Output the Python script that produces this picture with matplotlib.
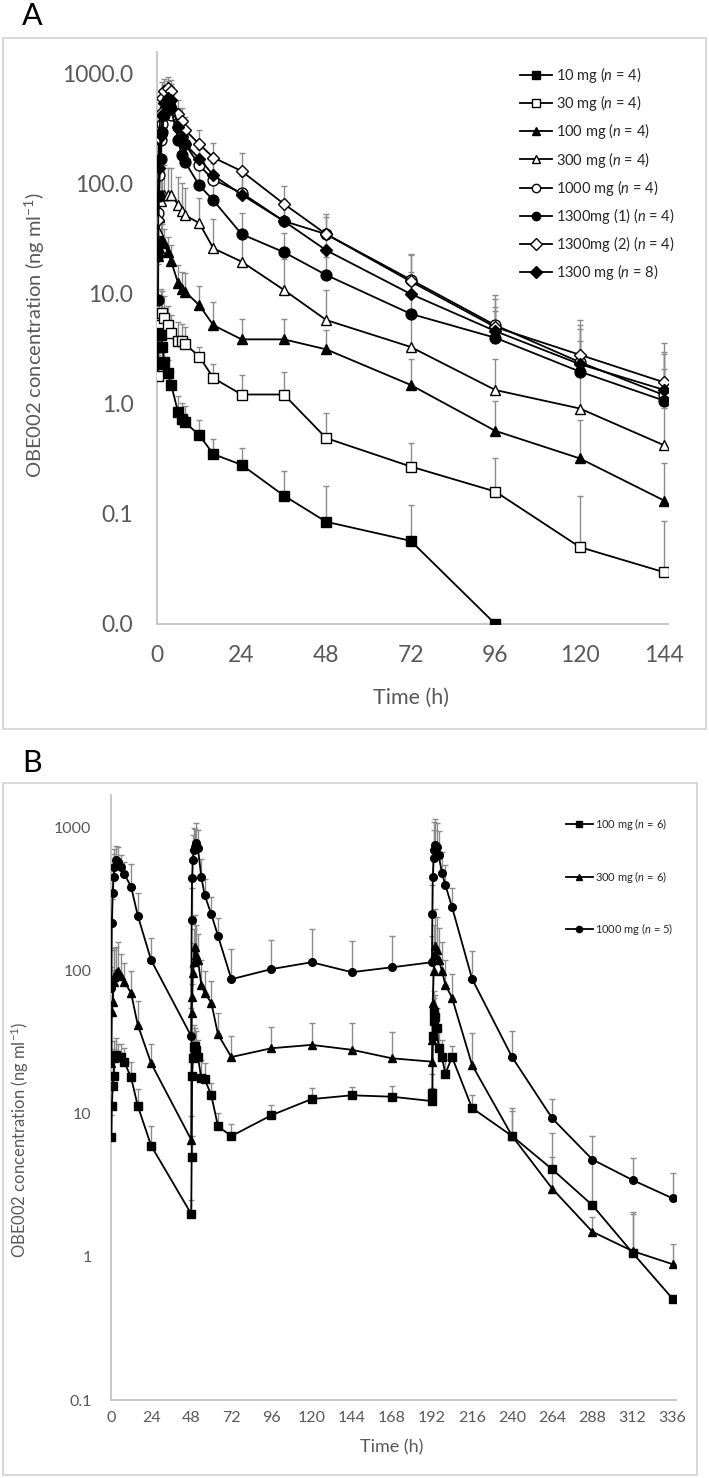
import matplotlib
matplotlib.use("Agg")
import matplotlib.pyplot as plt
from matplotlib.patches import Rectangle
import numpy as np

plt.rcParams['font.family'] = ['Lato', 'DejaVu Sans']
plt.rcParams['mathtext.fontset'] = 'custom'
plt.rcParams['mathtext.rm'] = 'Lato'
plt.rcParams['mathtext.it'] = 'Lato:italic'

# ---------------- Panel A data ----------------
time_a = [0.25, 0.5, 1, 1.5, 2, 3, 4, 6, 7, 8, 12, 16, 24, 36, 48, 72, 96, 120, 144]

mg10 = [2.3, 5.3, 4.2, 3.3, 2.4, 1.9, 1.5, 0.84, 0.73, 0.68, 0.52, 0.35, 0.28, 0.147, 0.085, 0.057, 0.01]
mg10_sd = [0.6, 1.5, 1.2, 1.0, 0.8, 0.6, 0.5, 0.35, 0.3, 0.28, 0.19, 0.13, 0.12, 0.10, 0.095, 0.063, 0]

mg30 = [1.8, 5.5, 6.5, 6.7, 6.0, 5.2, 4.4, 3.76, 3.7, 3.5, 2.7, 1.72, 1.22, 1.22, 0.49, 0.27, 0.16, 0.050, 0.0295]
mg30_sd = [1.0, 3.0, 4.5, 4.0, 3.5, 2.5, 2.0, 1.8, 1.6, 1.5, 0.6, 0.6, 0.6, 0.73, 0.34, 0.17, 0.16, 0.096, 0.057]

mg100 = [22, 26, 31, 31, 29, 24, 20, 12.5, 11, 10.5, 7.9, 5.2, 3.87, 3.87, 3.14, 1.49, 0.57, 0.32, 0.132]
mg100_sd = [8, 10, 12, 12, 10, 9, 8, 6, 5, 5, 3.9, 3.2, 2.1, 2.0, 1.6, 1.1, 0.5, 0.40, 0.16]

mg300 = [37, 50, 70, 79, 80, 80, 79, 65, 57, 52, 44, 26, 19.7, 10.9, 5.8, 3.3, 1.34, 0.91, 0.42]
mg300_sd = [40, 60, 80, 90, 70, 60, 60, 50, 45, 40, 30, 22, 18, 10, 5, 3.5, 1.2, 0.87, 0.5]

mg1000 = [54, 120, 250, 350, 430, 450, 420, 330, 280, 230, 148, 109, 83, 46, 35, 13.5, 5.2, 2.4, 1.2]
mg1000_sd = [40, 80, 150, 200, 250, 250, 220, 150, 120, 100, 60, 45, 35, 25, 18, 9, 4.5, 2.8, 1.8]

mg1300_1 = [8.8, 77, 170, 300, 420, 500, 480, 251, 183, 158, 97, 71, 35, 24, 14.9, 6.6, 4.0, 1.97, 1.07]
mg1300_1_sd = [10, 60, 120, 200, 250, 300, 280, 150, 110, 90, 50, 40, 20, 12, 7, 4, 3, 1.8, 1.0]

mg1300_2 = [47, 260, 440, 600, 700, 740, 700, 430, 370, 310, 230, 174, 131, 66, 35, 13, 5.0, 2.8, 1.57]
mg1300_2_sd = [30, 150, 250, 250, 200, 200, 180, 150, 120, 100, 80, 60, 60, 30, 15, 10, 4, 3, 2]

mg1300 = [22, 140, 280, 420, 540, 610, 580, 330, 270, 230, 170, 120, 80, 46, 25, 10, 4.6, 2.3, 1.34]
mg1300_sd = [25, 120, 200, 250, 250, 250, 230, 150, 120, 100, 70, 50, 40, 20, 10, 6, 3, 2.5, 1.5]

labels_a = ["10 mg ($\\it{n}$ = 4)", "30 mg ($\\it{n}$ = 4)", "100 mg ($\\it{n}$ = 4)",
            "300 mg ($\\it{n}$ = 4)", "1000 mg ($\\it{n}$ = 4)", "1300mg (1) ($\\it{n}$ = 4)",
            "1300mg (2) ($\\it{n}$ = 4)", "1300 mg ($\\it{n}$ = 8)"]
ticks_a_y = [0.01, 0.1, 1, 10, 100, 1000]
ticklabels_a_y = ["0.0", "0.1", "1.0", "10.0", "100.0", "1000.0"]
ticks_a_x = [0, 24, 48, 72, 96, 120, 144]

# ---------------- Panel B data ----------------
time_b = [0.25, 0.5, 1, 1.5, 2, 3, 4, 6, 8, 12, 16, 24,
          48, 48.25, 48.5, 49, 49.5, 50, 51, 52, 54, 56, 60, 64, 72,
          96, 120, 144, 168,
          192, 192.25, 192.5, 193, 193.5, 194, 195, 196, 198, 200, 204, 216,
          240, 264, 288, 312, 336]

b100 = [6.9, 11.4, 15.7, 18.5, 24.5, 25.8, 25, 25, 23, 18, 11.4, 6.0,
        2.0, 5.0, 18.5, 24.5, 29.6, 30, 28, 25, 17.8, 17.6, 13.5, 8.2, 7.0,
        9.8, 12.7, 13.5, 13.2,
        12.3, 14, 35, 45, 52, 48, 40, 28.8, 25, 19, 25, 11,
        7.0, 4.1, 2.3, 1.07, 0.51]
b100_sd = [3, 5, 8, 10, 8, 8, 6, 6, 6, 5, 3.5, 2.2,
           0.5, 2, 8, 10, 12, 10, 10, 8, 6, 5, 3, 2, 1.5,
           1.8, 2.4, 2.0, 2.5,
           3, 5, 15, 20, 20, 20, 15, 10, 8, 5, 5, 2.5,
           3.5, 3.2, 2.5, 1.0, 0]

b300 = [22.6, 52, 61, 84, 91, 96, 100, 92, 84, 70, 42, 22.6,
        6.6, 50.6, 66, 96, 116, 148, 129, 120, 80, 70, 60, 36, 25,
        28.8, 30.4, 28.1, 24.5,
        23.2, 33, 60, 100, 130, 150, 140, 120, 100, 80, 65, 22,
        7.0, 3.0, 1.5, 1.1, 0.89]
b300_sd = [10, 30, 40, 60, 50, 50, 60, 40, 30, 30, 20, 8,
           3, 30, 40, 60, 80, 100, 80, 60, 40, 30, 25, 15, 10,
           12, 13, 15, 13,
           12, 20, 40, 60, 80, 120, 100, 80, 60, 40, 30, 15,
           4, 2, 0.4, 0.9, 0.35]

b1000 = [76, 216, 349, 456, 531, 597, 581, 531, 474, 389, 244, 119,
         35, 228, 445, 597, 700, 740, 781, 721, 456, 340, 249, 176, 87.5,
         103, 115, 98, 106,
         115, 250, 450, 620, 700, 760, 740, 650, 480, 400, 280, 88,
         24.9, 9.3, 4.8, 3.45, 2.57]
b1000_sd = [30, 100, 150, 200, 180, 150, 150, 120, 100, 170, 105, 50,
            20, 150, 250, 300, 300, 250, 300, 250, 150, 100, 80, 60, 54,
            62, 80, 65, 70,
            60, 150, 250, 350, 400, 400, 350, 300, 200, 150, 100, 50,
            13, 3.5, 2.2, 1.5, 1.3]

labels_b = ["100 mg ($\\it{n}$ = 6)", "300 mg ($\\it{n}$ = 6)", "1000 mg ($\\it{n}$ = 5)"]
ticks_b_y = [0.1, 1, 10, 100, 1000]
ticklabels_b_y = ["0.1", "1", "10", "100", "1000"]
ticks_b_x = list(range(0, 337, 24))

# ---------------- figure ----------------
W, H = 709, 1478
fig = plt.figure(figsize=(W / 100, H / 100), dpi=100)
TXT = '#595959'


def fx(x):
    return x / W


def fy(y):
    return 1 - y / H


def frame(x0, y0, x1, y1):
    fig.patches.append(Rectangle((fx(x0), fy(y1)), fx(x1) - fx(x0), fy(y0) - fy(y1),
                                 transform=fig.transFigure, fill=False,
                                 edgecolor='#d4d4d4', lw=1.3))


frame(3, 38, 706, 729)
frame(3, 783, 697, 1475)

GREY = '#8c8c8c'


def series(ax, t, v, sd, marker, face, ms, label):
    t = np.asarray(t[:len(v)], float)
    v = np.asarray(v, float)
    sd = np.asarray(sd, float)
    ax.errorbar(t, v, yerr=[np.zeros_like(sd), sd], fmt='none', ecolor=GREY,
                elinewidth=1.0, capsize=2.5, capthick=1.0, zorder=2)
    ax.plot(t, v, color='black', lw=1.3, marker=marker, ms=ms, mfc=face,
            mec='black', mew=1.0, label=label, zorder=3)


def style(ax):
    ax.set_yscale('log')
    for s in ['top', 'right']:
        ax.spines[s].set_visible(False)
    for s in ['left', 'bottom']:
        ax.spines[s].set_color('#bfbfbf')
        ax.spines[s].set_linewidth(1.2)
    ax.tick_params(length=0, colors=TXT)
    ax.minorticks_off()
    ax.patch.set_alpha(0)


# Panel A
axA = fig.add_axes([fx(157), fy(624), fx(668) - fx(157), fy(52) - fy(624)])
style(axA)
specs_a = [(mg10, mg10_sd, 's', 'black'), (mg30, mg30_sd, 's', 'white'),
           (mg100, mg100_sd, '^', 'black'), (mg300, mg300_sd, '^', 'white'),
           (mg1000, mg1000_sd, 'o', 'white'), (mg1300_1, mg1300_1_sd, 'o', 'black'),
           (mg1300_2, mg1300_2_sd, 'D', 'white'), (mg1300, mg1300_sd, 'D', 'black')]
for (v, sd, m, f), lab in zip(specs_a, labels_a):
    ms = 6.3 if m == 'D' else 7.8
    series(axA, time_a, v, sd, m, f, ms, lab)
axA.set_xlim(0, 145)
axA.set_ylim(0.01, 10 ** 3.2)
axA.set_xticks(ticks_a_x)
axA.set_yticks(ticks_a_y)
axA.set_yticklabels(ticklabels_a_y)
axA.tick_params(axis='y', labelsize=16.5, pad=17)
axA.tick_params(axis='x', labelsize=16.5, pad=15)
leg = axA.legend(loc='upper left', bbox_to_anchor=(fx(520), fy(65)),
                 bbox_transform=fig.transFigure, frameon=False, fontsize=10.5,
                 handlelength=2.2, labelspacing=0.56, handletextpad=0.27,
                 borderaxespad=0, borderpad=0)
for h in leg.legend_handles:
    h.set_markersize(6)
for t in leg.get_texts():
    t.set_color('#262626')

fig.text(fx(32), fy(16), "A", fontsize=22, ha='center', va='center')
fig.text(fx(35), fy(335), "OBE002 concentration (ng ml$^{-1}$)", rotation=90,
         fontsize=14.5, ha='center', va='center', color=TXT)
fig.text(fx(411), fy(698), "Time (h)", fontsize=15.5, ha='center', va='center', color=TXT)

# Panel B
axB = fig.add_axes([fx(111), fy(1400), fx(676) - fx(111), fy(795) - fy(1400)])
style(axB)
specs_b = [(b100, b100_sd, 's'), (b300, b300_sd, '^'), (b1000, b1000_sd, 'o')]
for (v, sd, m), lab in zip(specs_b, labels_b):
    series(axB, time_b, v, sd, m, 'black', 5.5, lab)
axB.set_xlim(0, 338)
axB.set_ylim(0.1, 10 ** 3.23)
axB.set_xticks(ticks_b_x)
axB.set_yticks(ticks_b_y)
axB.set_yticklabels(ticklabels_b_y)
axB.tick_params(axis='y', labelsize=11.5, pad=14)
axB.tick_params(axis='x', labelsize=11.5, pad=8)
legb = axB.legend(loc='upper left', bbox_to_anchor=(fx(566), fy(816)),
                  bbox_transform=fig.transFigure, frameon=False, fontsize=8,
                  handlelength=2.4, labelspacing=3.3, handletextpad=0.25,
                  borderaxespad=0, borderpad=0)
for h in legb.legend_handles:
    h.set_markersize(4.5)
for t in legb.get_texts():
    t.set_color('#262626')

fig.text(fx(32), fy(763), "B", fontsize=22, ha='center', va='center')
fig.text(fx(20), fy(1140), "OBE002 concentration (ng ml$^{-1}$)", rotation=90,
         fontsize=12, ha='center', va='center', color=TXT)
fig.text(fx(392), fy(1447), "Time (h)", fontsize=13, ha='center', va='center', color=TXT)

fig.savefig("out.png", dpi=100)
